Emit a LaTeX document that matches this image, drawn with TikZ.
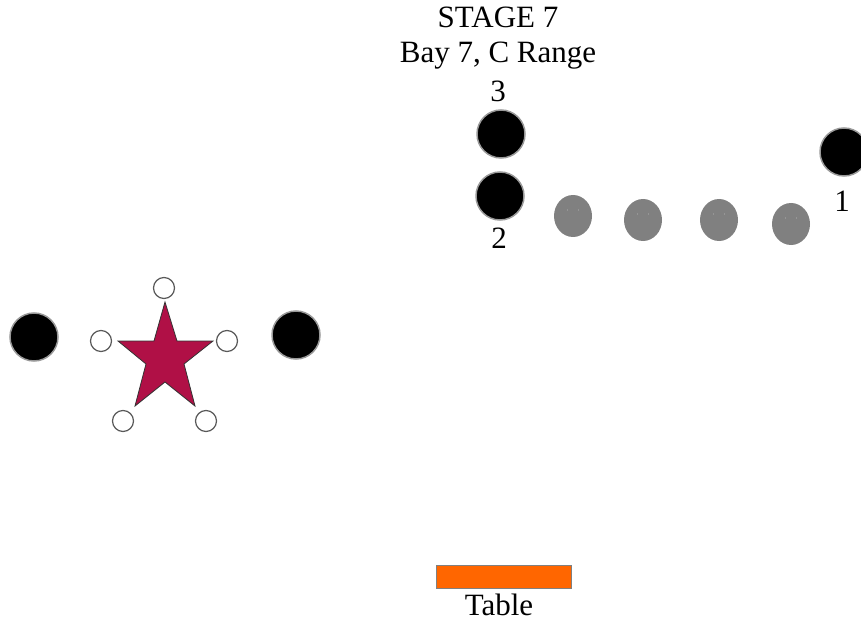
\documentclass[tikz,border=0pt]{standalone}
\usepackage{fontspec}
\setmainfont{Liberation Serif}
\usetikzlibrary{shapes.geometric}
\begin{document}
\begin{tikzpicture}[x=1pt,y=-1pt,
  lbl/.style={font=\fontsize{31}{36}\selectfont, inner sep=0pt, anchor=base},
  blackdot/.style={circle, fill=black, draw=gray!80, line width=1.5pt, minimum size=48pt, inner sep=0pt},
  graydot/.style={ellipse, fill=gray, draw=none, minimum width=38pt, minimum height=42pt, inner sep=0pt},
  whitedot/.style={circle, fill=white, draw=black!65, line width=1.2pt, minimum size=21pt, inner sep=0pt},
  eye/.style={circle, fill=gray!65, draw=none, minimum size=1.2pt, inner sep=0pt}
]
\useasboundingbox (0,0) rectangle (861,620);
% title
\node[lbl] (t1) at (498,28) {STAGE 7};
\node[lbl] (t2) at (498,63) {Bay 7, C Range};
\node[lbl] (n3) at (498,102) {3};
% shooter positions
\node[blackdot] (p3) at (501,134) {};
\node[blackdot] (p2) at (500,196) {};
\node[lbl] (n2) at (499,248) {2};
\node[blackdot] (p1) at (844,152) {};
\node[lbl] (n1) at (842,212) {1};
% gray targets
\foreach \i/\x/\y in {a/573/216, b/643/220, c/719/220, d/791/224} {
  \node[graydot] (g\i) at (\x,\y) {};
  \node[eye] (g\i l) at (\x-5.5,\y-6) {};
  \node[eye] (g\i r) at (\x+5.5,\y-6) {};
}
% left group
\node[blackdot] (bl) at (34,337) {};
\node[blackdot] (br) at (296,335) {};
\draw[fill={rgb,255:red,176;green,16;blue,70}, draw=black!80, line width=0.8pt]
  (165,302) -- (177,341) -- (213,341) -- (184,364) -- (195,406) -- (165,382)
  -- (135,406) -- (146,364) -- (118,341) -- (154,341) -- cycle;
\node[whitedot] (wt) at (164,288) {};
\node[whitedot] (wl) at (101,341) {};
\node[whitedot] (wr) at (227,341) {};
\node[whitedot] (wbl) at (123,421) {};
\node[whitedot] (wbr) at (206,421) {};
% table
\node[draw=gray, line width=1.2pt, fill={rgb,255:red,255;green,102;blue,0}, minimum width=135pt, minimum height=23pt, inner sep=0pt] (tbl) at (504,577) {};
\node[lbl] (tl) at (499,615) {Table};
\end{tikzpicture}
\end{document}
